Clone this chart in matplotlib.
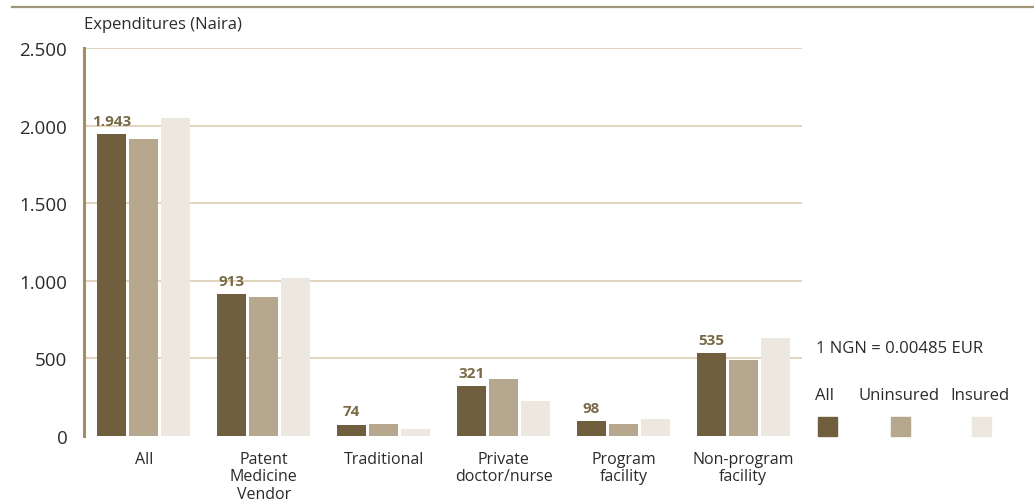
import matplotlib
matplotlib.use("Agg")
import matplotlib.pyplot as plt
from matplotlib.patches import Rectangle
from matplotlib.lines import Line2D
import numpy as np

plt.rcParams['font.family'] = ['Open Sans', 'DejaVu Sans']

categories = ['All', 'Patent\nMedicine\nVendor', 'Traditional', 'Private\ndoctor/nurse',
              'Program\nfacility', 'Non-program\nfacility']
series_names = ['All', 'Uninsured', 'Insured']
all_vals = [1943, 913, 74, 321, 98, 535]
uninsured_vals = [1915, 895, 80, 365, 77, 492]
insured_vals = [2050, 1020, 45, 225, 110, 630]
yticks = [0, 500, 1000, 1500, 2000, 2500]
ytick_labels = ['0', '500', '1.000', '1.500', '2.000', '2.500']
colors = ['#6f5f3f', '#b5a88f', '#ece8e0']
text_col = '#2b2b2b'
label_col = '#7a6a48'

W, H = 1034, 502
fig = plt.figure(figsize=(W / 100, H / 100), dpi=100)
ax = fig.add_axes([84 / W, 1 - 437 / H, 718 / W, 388 / H])

x = np.arange(len(categories))
width = 29 / 120
step = 32 / 120
for i, vals in enumerate([all_vals, uninsured_vals, insured_vals]):
    ax.bar(x + (i - 1) * step, vals, width=width, color=colors[i], zorder=3)

# value labels over the "All" bars
for xi, v in zip(x, all_vals):
    txt = f'{v:,}'.replace(',', '.')
    ax.text(xi - step, v + 40, txt, ha='center', va='bottom', fontsize=11,
            fontweight='bold', color=label_col, zorder=4)

ax.set_xlim(-0.5, 5.49)
ax.set_ylim(0, 2500)
for t in yticks[1:]:
    ax.axhline(t, color='#dccdb2', lw=1.2, zorder=1)

ax.set_yticks(yticks)
ax.set_yticklabels(ytick_labels, fontsize=13.5, color=text_col)
ax.tick_params(axis='y', length=0, pad=12)
ax.set_xticks(x)
ax.set_xticklabels(categories, fontsize=11.5, color=text_col, linespacing=1.1)
ax.tick_params(axis='x', length=0, pad=11)

for s in ['top', 'right', 'bottom']:
    ax.spines[s].set_visible(False)
ax.spines['left'].set_color('#a48e63')
ax.spines['left'].set_linewidth(2.2)

fig.text(84 / W, 1 - 25 / H, 'Expenditures (Naira)', fontsize=12, color=text_col,
         ha='left', va='center')

# rule across the top
fig.add_artist(Line2D([12 / W, 1], [1 - 8 / H, 1 - 8 / H], color='#a09478', lw=1.6,
                      transform=fig.transFigure))

# currency note and legend
fig.text(816 / W, 1 - 349 / H, '1 NGN = 0.00485 EUR', fontsize=12, color=text_col,
         ha='left', va='center')
legend_x = [815, 858, 950]
box_x = [818, 891, 972]
for name, lx, bx, c in zip(series_names, legend_x, box_x, colors):
    fig.text(lx / W, 1 - 396 / H, name, fontsize=12, color=text_col, ha='left', va='center')
    fig.add_artist(Rectangle((bx / W, 1 - 437 / H), 19 / W, 19 / H, color=c,
                             transform=fig.transFigure))

fig.savefig('out.png', dpi=100, facecolor='white')
